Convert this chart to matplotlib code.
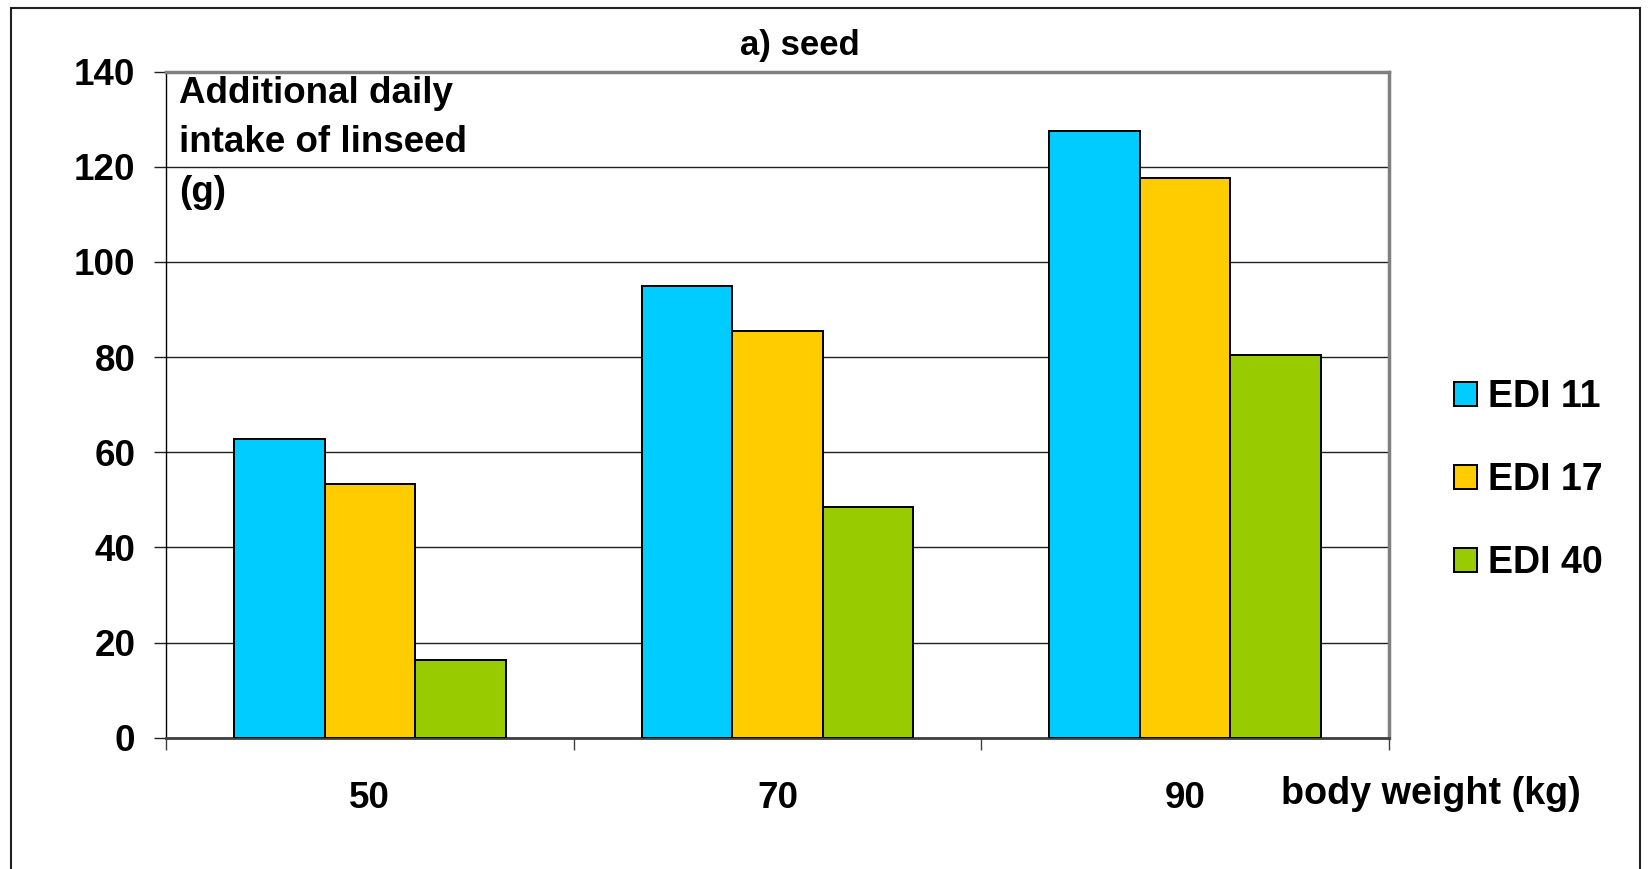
import matplotlib
matplotlib.use("Agg")
import matplotlib.pyplot as plt
from matplotlib.patches import Rectangle
import numpy as np

plt.rcParams['font.family'] = ['Liberation Sans', 'DejaVu Sans']
plt.rcParams['font.weight'] = 'bold'

categories = ["50", "70", "90"]
series_names = ["EDI 11", "EDI 17", "EDI 40"]
edi11 = [62.8, 95.0, 127.6]
edi17 = [53.4, 85.5, 117.7]
edi40 = [16.3, 48.4, 80.5]
colors = ["#00CCFF", "#FFCC00", "#99CC00"]

W, H = 1651, 869
fig = plt.figure(figsize=(W / 100, H / 100), dpi=100)
ax = fig.add_axes([166 / W, 1 - 737.7 / H, (1389 - 166) / W, (737.7 - 71.7) / H])

x = np.arange(len(categories))
bw = 1 / 4.5
handles = []
for i, (vals, name, col) in enumerate(zip([edi11, edi17, edi40], series_names, colors)):
    b = ax.bar(x + (i - 1) * bw, vals, width=bw, color=col, edgecolor="black",
               linewidth=1.4, label=name, zorder=3)
    handles.append(b)

ax.set_xlim(-0.5, 2.5)
ax.set_ylim(0, 140)
ax.set_yticks(np.arange(0, 141, 20))
ax.yaxis.grid(True, color="#202020", linewidth=1.0, zorder=0)
ax.set_axisbelow(True)

ax.set_xticks(x)
ax.set_xticklabels(categories)
ax.set_xticks([-0.5, 0.5, 1.5, 2.5], minor=True)
ax.tick_params(axis="x", which="major", length=0, pad=31, labelsize=26.5)
ax.tick_params(axis="x", which="minor", length=8.6, width=1.0, direction="out", color="#404040")
ax.tick_params(axis="y", which="major", length=8.6, width=1.0, direction="out", pad=13.5,
               labelsize=26.5, color="#202020")
for lab in ax.get_xticklabels() + ax.get_yticklabels():
    lab.set_fontweight("bold")

ax.spines["left"].set_color("#000000")
ax.spines["left"].set_linewidth(1.0)
ax.spines["bottom"].set_color("#404040")
ax.spines["bottom"].set_linewidth(2.0)
ax.spines["top"].set_color("#808080")
ax.spines["top"].set_linewidth(2.5)
ax.spines["right"].set_color("#808080")
ax.spines["right"].set_linewidth(2.5)

fig.text(179 / W, 1 - 76 / H, "Additional daily\nintake of linseed\n(g)", ha="left", va="top",
         fontsize=26.5, fontweight="bold", linespacing=1.53)

fig.text(800 / W, 1 - 45 / H, "a) seed", ha="center", va="center", fontsize=25,
         fontweight="bold")
fig.text(1281 / W, 1 - 794 / H, "body weight (kg)", ha="left", va="center", fontsize=27.2,
         fontweight="bold")

leg = fig.legend(handles=handles, labels=series_names, loc="center left",
                 bbox_to_anchor=(1454 / W, 1 - 480 / H), frameon=False, borderpad=0,
                 borderaxespad=0, handlelength=0.6, handleheight=0.6, handletextpad=0.3,
                 labelspacing=1.25, prop={"size": 27, "weight": "bold"})

fig.patches.append(Rectangle((11 / W, -0.02), (1640 - 11) / W, 1.02 - 8 / H,
                             transform=fig.transFigure, fill=False, edgecolor="#202020",
                             linewidth=1.5))

fig.savefig("out.png", dpi=100)
